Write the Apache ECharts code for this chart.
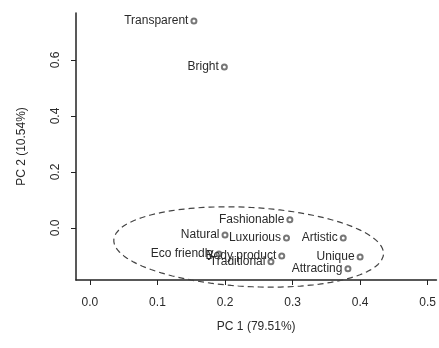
<!DOCTYPE html>
<html>
<head>
<meta charset="utf-8">
<script src="https://cdn.jsdelivr.net/npm/echarts@6/dist/echarts.min.js"></script>
<style>
html,body{margin:0;padding:0;background:#fff;}
#chart{width:439px;height:348px;}
</style>
</head>
<body>
<div id="chart"></div>
<script>
const names = ['Transparent','Bright','Fashionable','Natural','Luxurious','Artistic','Eco friendly','Body product','Unique','Traditional','Attracting'];
const pc1 = [0.154, 0.199, 0.296, 0.200, 0.291, 0.375, 0.191, 0.284, 0.400, 0.268, 0.382];
const pc2 = [0.739, 0.575, 0.029, -0.025, -0.036, -0.036, -0.093, -0.100, -0.104, -0.121, -0.146];
const xTicks = [0.0, 0.1, 0.2, 0.3, 0.4, 0.5];
const yTicks = [0.0, 0.2, 0.4, 0.6];
const xTitle = 'PC 1 (79.51%)';
const yTitle = 'PC 2 (10.54%)';
// confidence ellipse (data units): centre, and two conjugate half-axis vectors
const ellCentre = [0.235, -0.068];
const ellAxisA = [0.199, -0.012];
const ellAxisB = [-0.016, 0.143];

const ellPts = [];
for (let i = 0; i <= 120; i++) {
  const t = i / 120 * Math.PI * 2;
  ellPts.push([
    ellCentre[0] + ellAxisA[0] * Math.cos(t) + ellAxisB[0] * Math.sin(t),
    ellCentre[1] + ellAxisA[1] * Math.cos(t) + ellAxisB[1] * Math.sin(t)
  ]);
}
const pts = names.map((n, i) => ({ name: n, value: [pc1[i], pc2[i]] }));

const chart = echarts.init(document.getElementById('chart'), null, { renderer: 'canvas' });
const font = 'Liberation Sans, Arial, sans-serif';
const ink = '#2a2a2a';
chart.setOption({
  animation: false,
  backgroundColor: '#ffffff',
  grid: { left: 76, right: 0, top: 13, bottom: 68 },
  xAxis: {
    type: 'value', min: -0.0206, max: 0.513,
    splitLine: { show: false },
    axisLine: { show: true, onZero: false, lineStyle: { color: '#222', width: 1.5 } },
    axisTick: { show: true, customValues: xTicks, length: 5, lineStyle: { color: '#222' } },
    axisLabel: { customValues: xTicks, margin: 17, fontSize: 12, color: ink, fontFamily: font,
      formatter: v => v.toFixed(1) },
    name: xTitle, nameLocation: 'middle', nameGap: 41,
    nameTextStyle: { fontSize: 12, color: ink, fontFamily: font }
  },
  yAxis: {
    type: 'value', min: -0.186, max: 0.768,
    splitLine: { show: false },
    axisLine: { show: true, onZero: false, lineStyle: { color: '#222', width: 1.5 } },
    axisTick: { show: true, customValues: yTicks, length: 5, lineStyle: { color: '#222' } },
    axisLabel: { customValues: yTicks, rotate: 90, margin: 14, fontSize: 12, color: ink, fontFamily: font,
      formatter: v => v.toFixed(1) },
    name: yTitle, nameLocation: 'middle', nameGap: 48, nameRotate: 90,
    nameTextStyle: { fontSize: 12, color: ink, fontFamily: font }
  },
  series: [
    {
      type: 'line', data: ellPts, showSymbol: false, symbol: 'none', clip: false, smooth: false,
      lineStyle: { color: '#444', width: 1.2, type: [6, 4] }, z: 1, silent: true
    },
    {
      type: 'scatter', data: pts, symbol: 'emptyCircle', symbolSize: 5,
      itemStyle: { color: '#777', borderColor: '#777', borderWidth: 0.7, opacity: 1 },
      label: { show: true, position: 'left', distance: 2, formatter: '{b}', fontSize: 12,
        color: ink, fontFamily: font },
      z: 3
    }
  ]
});
</script>
</body>
</html>
